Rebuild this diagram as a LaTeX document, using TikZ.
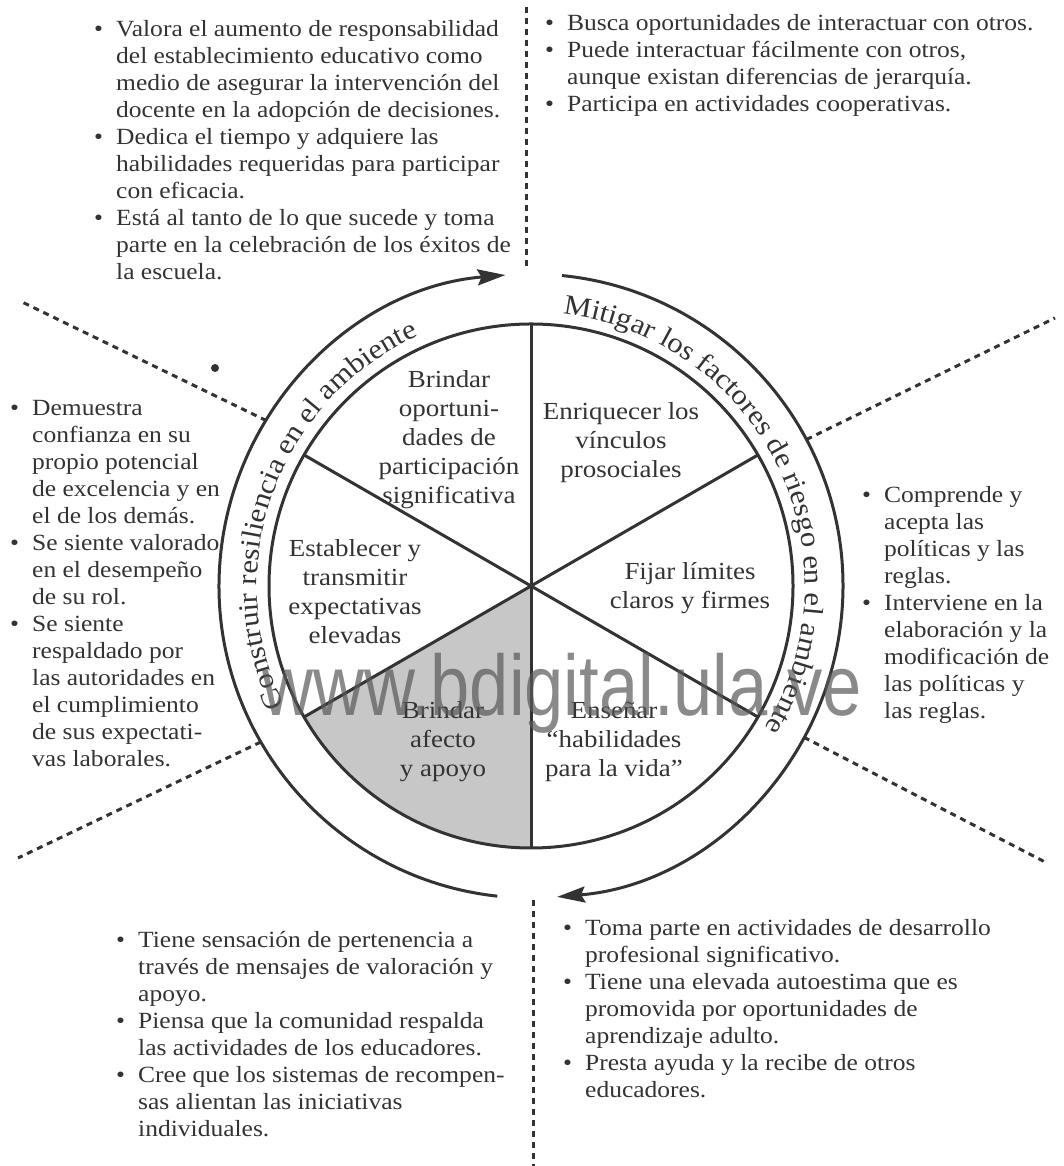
\documentclass[tikz,border=0pt]{standalone}
\usepackage{fontspec}
\setmainfont[FakeStretch=1.1]{Liberation Serif}
\newfontfamily\wmfont[FakeStretch=0.82]{Liberation Sans}
\usetikzlibrary{arrows.meta,decorations.text}
\definecolor{ink}{gray}{0.2}
\definecolor{shadegray}{gray}{0.78}
\newcommand\bu{\makebox[22pt][l]{•}}
\newcommand\ind{\hspace*{22pt}}
\newcommand\ringfont{\fontsize{28}{28}\selectfont\color{ink}}
\begin{document}
\begin{tikzpicture}[x=1pt,y=1pt,
  blk/.style={inner sep=0pt, anchor=base west, text=ink, font=\fontsize{23.2}{27}\selectfont},
  sect/.style={inner sep=0pt, align=center, text=ink, font=\fontsize{24.5}{29}\selectfont},
  ring/.style={draw=ink, line width=3pt},
  dashline/.style={draw=ink, line width=3pt, dash pattern=on 6pt off 5pt},
  tip/.style={-{Stealth[length=28pt,width=16pt,inset=4pt]}}
]
\fill[white] (0,0) rectangle (1063,1166);
\path[use as bounding box] (0,0) rectangle (1063,1166);
\coordinate (C) at (531,580);

% shaded sector
\fill[shadegray] (C) -- ([shift={(210:262)}]C) arc[start angle=210, end angle=270, radius=262] -- cycle;
% inner circle and spokes
\draw[ring] (C) circle[radius=262];
\foreach \a in {30,90,150,210,270,330} \draw[ring] (C) -- ([shift={(\a:262)}]C);

% outer arrows
\draw[ring, tip] ([shift={(263.8:312)}]C) arc[start angle=263.8, end angle=94.7, radius=312];
\draw[ring, tip] ([shift={(84.3:312)}]C) arc[start angle=84.3, end angle=-85.2, radius=312];

% dashed separators
\coordinate (dtop1) at (526,1159); \coordinate (dtop2) at (526,896);
\coordinate (dbot1) at (533,266); \coordinate (dbot2) at (533,0);
\draw[dashline] (dtop1) -- (dtop2);
\draw[dashline] (dbot1) -- (dbot2);
\coordinate (ul) at (22,864); \coordinate (ur) at (1055,848);
\coordinate (lr) at (1045,304); \coordinate (ll) at (18,308);
\draw[dashline] ([shift={(148:312)}]C) -- (ul);
\draw[dashline] ([shift={(28:312)}]C) -- (ur);
\draw[dashline] ([shift={(-29:312)}]C) -- (lr);
\draw[dashline] ([shift={(210:312)}]C) -- (ll);

% ring texts
\path[decorate, decoration={text along path, text align=center,
  text={|\ringfont|Construir resiliencia en el ambiente}}]
  ([shift={(216:274)}]C) arc[start angle=216, end angle=104, radius=274];
\path[decorate, decoration={text along path, text align=center,
  text={|\ringfont|Mitigar los factores de riesgo en el ambiente}}]
  ([shift={(99:274)}]C) arc[start angle=99, end angle=-47, radius=274];

% sector texts
\node[sect] (s1) at (449,726) {Brindar\\oportuni-\\dades de\\participación\\significativa};
\node[sect] (s2) at (621,723) {Enriquecer los\\vínculos\\prosociales};
\node[sect] (s3) at (355,574) {Establecer y\\transmitir\\expectativas\\elevadas};
\node[sect] (s4) at (690,578) {Fijar límites\\claros y firmes};
\node[sect] (s5) at (443,424) {Brindar\\afecto\\y apoyo};
\node[sect] (s6) at (614,424) {Enseñar\\“habilidades\\para la vida”};

% outer text blocks
\node[blk] (tl) at (94,1129) {\begin{tabular}[t]{@{}l@{}}
\bu Valora el aumento de responsabilidad\\
\ind del establecimiento educativo como\\
\ind medio de asegurar la intervención del\\
\ind docente en la adopción de decisiones.\\
\bu Dedica el tiempo y adquiere las\\
\ind habilidades requeridas para participar\\
\ind con eficacia.\\
\bu Está al tanto de lo que sucede y toma\\
\ind parte en la celebración de los éxitos de\\
\ind la escuela.
\end{tabular}};

\node[blk] (tr) at (545,1135) {\begin{tabular}[t]{@{}l@{}}
\bu Busca oportunidades de interactuar con otros.\\
\bu Puede interactuar fácilmente con otros,\\
\ind aunque existan diferencias de jerarquía.\\
\bu Participa en actividades cooperativas.
\end{tabular}};

\node[blk] (ml) at (10,750) {\begin{tabular}[t]{@{}l@{}}
\bu Demuestra\\
\ind confianza en su\\
\ind propio potencial\\
\ind de excelencia y en\\
\ind el de los demás.\\
\bu Se siente valorado\\
\ind en el desempeño\\
\ind de su rol.\\
\bu Se siente\\
\ind respaldado por\\
\ind las autoridades en\\
\ind el cumplimiento\\
\ind de sus expectati-\\
\ind vas laborales.
\end{tabular}};

\node[blk] (mr) at (862,663) {\begin{tabular}[t]{@{}l@{}}
\bu Comprende y\\
\ind acepta las\\
\ind políticas y las\\
\ind reglas.\\
\bu Interviene en la\\
\ind elaboración y la\\
\ind modificación de\\
\ind las políticas y\\
\ind las reglas.
\end{tabular}};

\node[blk] (bl) at (116,218) {\begin{tabular}[t]{@{}l@{}}
\bu Tiene sensación de pertenencia a\\
\ind través de mensajes de valoración y\\
\ind apoyo.\\
\bu Piensa que la comunidad respalda\\
\ind las actividades de los educadores.\\
\bu Cree que los sistemas de recompen-\\
\ind sas alientan las iniciativas\\
\ind individuales.
\end{tabular}};

\node[blk] (br) at (563,230) {\begin{tabular}[t]{@{}l@{}}
\bu Toma parte en actividades de desarrollo\\
\ind profesional significativo.\\
\bu Tiene una elevada autoestima que es\\
\ind promovida por oportunidades de\\
\ind aprendizaje adulto.\\
\bu Presta ayuda y la recibe de otros\\
\ind educadores.
\end{tabular}};

% stray ink dot
\fill[ink] (215,798) circle[radius=4];

% watermark
\node[inner sep=0pt, anchor=base west, text=black!65, text opacity=0.7,
  font=\wmfont\fontsize{86}{86}\selectfont] (wmk) at (262,450) {www.bdigital.ula.ve};
\end{tikzpicture}
\end{document}
